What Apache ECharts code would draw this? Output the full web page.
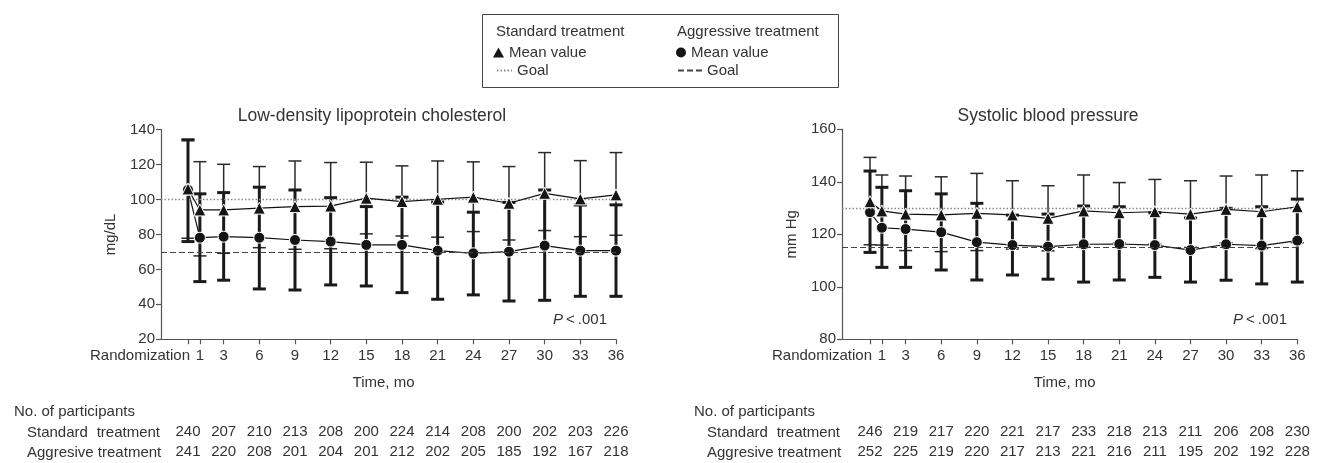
<!DOCTYPE html>
<html><head><meta charset="utf-8">
<script src="https://cdn.jsdelivr.net/npm/echarts@6/dist/echarts.min.js"></script>
<style>html,body{margin:0;padding:0;background:#fff}#c{width:1320px;height:463px}</style>
</head><body><div id="c"></div>
<script>
// ---------- data ----------
const months = [0, 1, 3, 6, 9, 12, 15, 18, 21, 24, 27, 30, 33, 36];
const tableMonths = [0, 3, 6, 9, 12, 15, 18, 21, 24, 27, 30, 33, 36];
const xTickValues = [0, 1, 3, 6, 9, 12, 15, 18, 21, 24, 27, 30, 33, 36];
const xZeroLabel = 'Randomization';

// Low-density lipoprotein cholesterol (mg/dL)
const ldlStdMean  = [106, 94.0, 94.0, 95.0, 95.9, 96.2, 100.7, 98.8, 100.1, 101.3, 97.8, 103.5, 100.3, 102.6];
const ldlStdHigh  = [134.4, 121.6, 120.1, 118.8, 122.0, 121.1, 121.3, 119.2, 122.0, 121.5, 118.8, 126.8, 122.2, 126.8];
const ldlStdLow   = [77.8, 67.7, 69.2, 72.4, 71.5, 71.8, 80.3, 79.1, 78.4, 81.6, 76.8, 82.2, 78.7, 79.5];
const ldlAggMean  = [105.5, 78.1, 78.7, 78.1, 76.8, 75.9, 74.0, 74.0, 70.7, 69.2, 70.1, 73.6, 70.7, 70.7];
const ldlAggHigh  = [134.0, 103.2, 103.9, 107.0, 105.4, 101.0, 95.9, 101.3, 98.5, 92.7, 98.3, 105.4, 96.8, 96.9];
const ldlAggLow   = [75.9, 53.0, 53.8, 48.8, 48.2, 51.1, 50.5, 46.7, 42.9, 45.4, 41.9, 42.3, 44.6, 44.6];
const ldlGoalStd = 100, ldlGoalAgg = 70;
const ldlCountStd = [240, 207, 210, 213, 208, 200, 224, 214, 208, 200, 202, 203, 226];
const ldlCountAgg = [241, 220, 208, 201, 204, 201, 212, 202, 205, 185, 192, 167, 218];

// Systolic blood pressure (mm Hg)
const sbpStdMean  = [132.4, 128.9, 127.7, 127.4, 128.0, 127.4, 126.1, 128.9, 128.2, 128.6, 127.7, 129.5, 128.6, 130.5];
const sbpStdHigh  = [149.3, 142.6, 142.2, 141.9, 143.2, 140.4, 138.5, 142.6, 139.7, 140.9, 140.4, 142.2, 142.6, 144.2];
const sbpStdLow   = [116.0, 115.9, 113.8, 113.4, 113.8, 114.4, 113.7, 115.2, 116.7, 116.3, 115.0, 116.8, 114.6, 116.8];
const sbpAggMean  = [128.4, 122.5, 122.0, 120.8, 117.0, 115.9, 115.3, 116.2, 116.3, 115.9, 114.0, 116.2, 115.7, 117.6];
const sbpAggHigh  = [144.1, 137.9, 136.6, 135.4, 131.8, 127.3, 127.7, 130.8, 130.5, 128.2, 126.2, 129.9, 130.5, 133.4];
const sbpAggLow   = [113.1, 107.4, 107.4, 106.4, 102.6, 104.5, 102.9, 101.8, 102.6, 103.6, 101.8, 102.5, 101.1, 101.8];
const sbpGoalStd = 130, sbpGoalAgg = 115;
const sbpCountStd = [246, 219, 217, 220, 221, 217, 233, 218, 213, 211, 206, 208, 230];
const sbpCountAgg = [252, 225, 219, 220, 217, 213, 221, 216, 211, 195, 202, 192, 228];

// ---------- styling ----------
const FONT = '"Liberation Sans", Arial, Helvetica, sans-serif';
const TXT = '#333';
const AX = '#555';
const FS = 15;
const NAME_STD_MEAN = 'Standard treatment: Mean value';
const NAME_AGG_MEAN = 'Aggressive treatment: Mean value';
const NAME_STD_GOAL = 'Standard treatment: Goal';
const NAME_AGG_GOAL = 'Aggressive treatment: Goal';

const chart = echarts.init(document.getElementById('c'), null, {renderer: 'canvas'});

function errRender(capHalf, width, color) {
  return function (params, api) {
    const x = api.value(0), lo = api.value(1), hi = api.value(2);
    const a = api.coord([x, lo]), b = api.coord([x, hi]);
    const style = {stroke: color, lineWidth: width, fill: null};
    return {type: 'group', children: [
      {type: 'line', shape: {x1: a[0], y1: a[1], x2: b[0], y2: b[1]}, style},
      {type: 'line', shape: {x1: a[0] - capHalf, y1: a[1], x2: a[0] + capHalf, y2: a[1]}, style},
      {type: 'line', shape: {x1: b[0] - capHalf, y1: b[1], x2: b[0] + capHalf, y2: b[1]}, style}
    ]};
  };
}

const grids = [
  {left: 161, top: 129.5, width: 455, height: 209.8},
  {left: 842, top: 129.3, width: 455.3, height: 210}
];
const xMins = [-2.27, -2.36];

function mainX(gi) {
  return {
    type: 'value', gridIndex: gi, min: xMins[gi], max: 36,
    name: 'Time, mo', nameLocation: 'middle', nameGap: 36,
    nameTextStyle: {fontSize: FS, color: TXT, fontFamily: FONT, padding: [0, 10, 0, 0]},
    axisLine: {show: true, onZero: false, lineStyle: {color: AX, width: 1.2}},
    axisTick: {show: true, length: 5, customValues: xTickValues, lineStyle: {color: AX, width: 1.2}},
    splitLine: {show: false},
    axisLabel: {
      customValues: xTickValues, margin: 9, fontSize: FS, color: TXT, fontFamily: FONT,
      formatter: v => v === 0 ? '{r|' + xZeroLabel + '}' : String(v),
      rich: {r: {fontSize: FS, color: TXT, fontFamily: FONT, padding: [0, 96, 0, 0]}}
    }
  };
}
function countX(gi, counts, offset) {
  return {
    type: 'value', gridIndex: gi, min: xMins[gi], max: 36, position: 'bottom', offset: offset,
    axisLine: {show: false, onZero: false}, axisTick: {show: false}, splitLine: {show: false},
    axisLabel: {
      customValues: tableMonths, margin: 8, fontSize: FS, color: TXT, fontFamily: FONT,
      formatter: v => { const i = tableMonths.indexOf(Math.round(v)); return i >= 0 ? String(counts[i]) : ''; }
    }
  };
}
function mainY(gi, min, max, name) {
  return {
    type: 'value', gridIndex: gi, min: min, max: max, interval: 20,
    name: name, nameLocation: 'middle', nameGap: 43,
    nameTextStyle: {fontSize: FS, color: TXT, fontFamily: FONT},
    axisLine: {show: true, onZero: false, lineStyle: {color: AX, width: 1.2}},
    axisTick: {show: true, length: 5, lineStyle: {color: AX, width: 1.2}},
    splitLine: {show: false},
    axisLabel: {margin: 6, fontSize: FS, color: TXT, fontFamily: FONT}
  };
}

function seriesFor(gi, xi, d) {
  const zip = (lo, hi) => months.map((m, i) => [m, lo[i], hi[i]]);
  const pts = arr => months.map((m, i) => [m, arr[i]]);
  return [
    {type: 'line', name: NAME_STD_GOAL, xAxisIndex: xi, yAxisIndex: gi, data: [], symbol: 'none',
     itemStyle: {color: '#888', opacity: 0},
     lineStyle: {type: [1.5, 2], color: '#888', width: 1.3}, z: 1,
     markLine: {silent: true, symbol: ['none', 'none'], label: {show: false},
       lineStyle: {type: [1.5, 2], color: '#888', width: 1.3, opacity: 1}, data: [{yAxis: d.goalStd}], animation: false}},
    {type: 'line', name: NAME_AGG_GOAL, xAxisIndex: xi, yAxisIndex: gi, data: [], symbol: 'none',
     itemStyle: {color: '#444', opacity: 0},
     lineStyle: {type: [6, 3], color: '#444', width: 1.1}, z: 1,
     markLine: {silent: true, symbol: ['none', 'none'], label: {show: false},
       lineStyle: {type: [6, 3], color: '#444', width: 1.1, opacity: 1}, data: [{yAxis: d.goalAgg}], animation: false}},
    {type: 'custom', name: 'Standard treatment: SD', xAxisIndex: xi, yAxisIndex: gi, z: 2,
     renderItem: errRender(6.5, 1.5, '#2a2a2a'), encode: {x: 0, y: [1, 2]}, data: zip(d.stdLow, d.stdHigh)},
    {type: 'custom', name: 'Aggressive treatment: SD', xAxisIndex: xi, yAxisIndex: gi, z: 3,
     renderItem: errRender(6.5, 3, '#1a1a1a'), encode: {x: 0, y: [1, 2]}, data: zip(d.aggLow, d.aggHigh)},
    {type: 'line', name: NAME_AGG_MEAN, xAxisIndex: xi, yAxisIndex: gi, z: 4, data: pts(d.aggMean),
     symbol: 'circle', symbolSize: 11, showAllSymbol: true,
     lineStyle: {color: '#111', width: 1.2}, itemStyle: {color: '#151515', borderColor: '#fff', borderWidth: 1}},
    {type: 'line', name: NAME_STD_MEAN, xAxisIndex: xi, yAxisIndex: gi, z: 5, data: pts(d.stdMean),
     symbol: 'triangle', symbolSize: 12, showAllSymbol: true,
     lineStyle: {color: '#111', width: 1.2}, itemStyle: {color: '#151515', borderColor: '#fff', borderWidth: 1}}
  ];
}

const ldl = {stdMean: ldlStdMean, stdHigh: ldlStdHigh, stdLow: ldlStdLow, aggMean: ldlAggMean,
  aggHigh: ldlAggHigh, aggLow: ldlAggLow, goalStd: ldlGoalStd, goalAgg: ldlGoalAgg};
const sbp = {stdMean: sbpStdMean, stdHigh: sbpStdHigh, stdLow: sbpStdLow, aggMean: sbpAggMean,
  aggHigh: sbpAggHigh, aggLow: sbpAggLow, goalStd: sbpGoalStd, goalAgg: sbpGoalAgg};

const legendBase = {orient: 'horizontal', padding: 0, itemGap: 0, selectedMode: false,
  textStyle: {fontSize: FS, color: TXT, fontFamily: FONT}, itemHeight: 10};

function txt(x, y, text, align, extra) {
  return Object.assign({type: 'text', x: x, y: y, silent: true,
    style: {text: text, fill: TXT, font: FS + 'px ' + FONT, textAlign: align || 'left', textVerticalAlign: 'middle'}}, extra || {});
}
function pText(x, y) {
  return {type: 'text', x: x, y: y, silent: true, style: {
    text: '{i|P}\u2009<\u2009.001', textAlign: 'right', textVerticalAlign: 'middle',
    rich: {i: {fontStyle: 'italic', fontSize: FS, fill: TXT, fontFamily: FONT}},
    fill: TXT, font: FS + 'px ' + FONT}};
}

const option = {
  animation: false,
  backgroundColor: '#fff',
  title: [
    {text: 'Low-density lipoprotein cholesterol', left: 372, top: 107, textAlign: 'center', padding: 0,
     textStyle: {fontSize: 17.5, fontWeight: 'normal', color: TXT, fontFamily: FONT}},
    {text: 'Systolic blood pressure', left: 1048, top: 107, textAlign: 'center', padding: 0,
     textStyle: {fontSize: 17.5, fontWeight: 'normal', color: TXT, fontFamily: FONT}}
  ],
  legend: [
    Object.assign({}, legendBase, {left: 493, top: 45, itemWidth: 11,
      data: [{name: NAME_STD_MEAN, icon: 'triangle', itemStyle: {borderWidth: 0}}], formatter: () => 'Mean value'}),
    Object.assign({}, legendBase, {left: 496, top: 63, itemWidth: 15,
      data: [{name: NAME_STD_GOAL, itemStyle: {opacity: 0}}], formatter: () => 'Goal'}),
    Object.assign({}, legendBase, {left: 676, top: 45, itemWidth: 10,
      data: [{name: NAME_AGG_MEAN, icon: 'circle', itemStyle: {borderWidth: 0}}], formatter: () => 'Mean value'}),
    Object.assign({}, legendBase, {left: 677, top: 63, itemWidth: 24,
      data: [{name: NAME_AGG_GOAL, itemStyle: {opacity: 0}}], formatter: () => 'Goal'})
  ],
  grid: grids,
  xAxis: [mainX(0), countX(0, ldlCountStd, 77), countX(0, ldlCountAgg, 97),
          mainX(1), countX(1, sbpCountStd, 77), countX(1, sbpCountAgg, 97)],
  yAxis: [mainY(0, 20, 140, 'mg/dL'), mainY(1, 80, 160, 'mm Hg')],
  series: [].concat(seriesFor(0, 0, ldl), seriesFor(1, 3, sbp)),
  graphic: [
    {type: 'rect', shape: {x: 482.5, y: 14.5, width: 356, height: 73}, silent: true,
     style: {fill: 'none', stroke: '#444', lineWidth: 1}},
    txt(496, 32, 'Standard treatment'),
    txt(677, 32, 'Aggressive treatment'),
    pText(607, 320),
    pText(1287, 320),
    txt(14, 412, 'No. of participants'),
    txt(27, 433, 'Standard'),
    txt(160, 433, 'treatment', 'right'),
    txt(27, 453, 'Aggresive treatment'),
    txt(694, 412, 'No. of participants'),
    txt(707, 433, 'Standard'),
    txt(840, 433, 'treatment', 'right'),
    txt(707, 453, 'Aggresive treatment')
  ]
};
chart.setOption(option);
</script>
</body></html>
